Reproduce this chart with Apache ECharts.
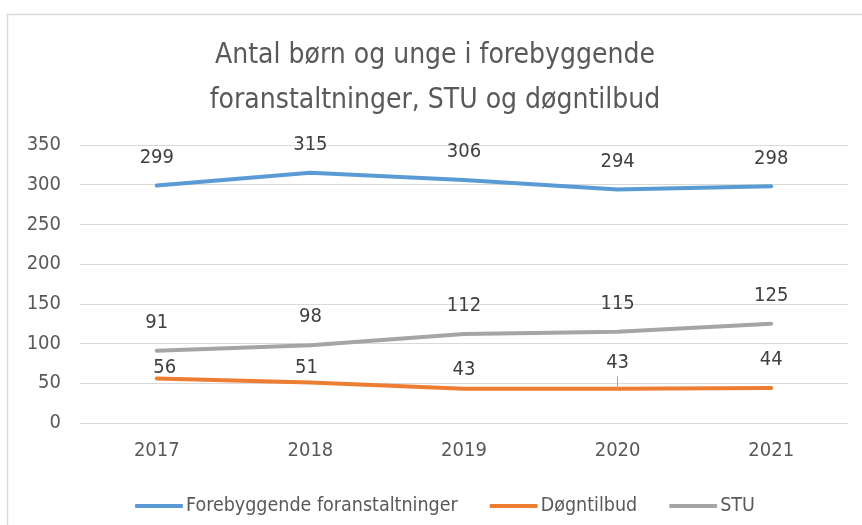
<!DOCTYPE html>
<html>
<head>
<meta charset="utf-8">
<script src="https://cdn.jsdelivr.net/npm/echarts@6/dist/echarts.min.js"></script>
<style>
  html, body { margin: 0; padding: 0; background: #fff; }
  #main { width: 862px; height: 525px; }
</style>
</head>
<body>
<div id="main"></div>
<script>
// data
var years = ['2017', '2018', '2019', '2020', '2021'];
var forebyggende = [299, 315, 306, 294, 298];
var dogntilbud = [56, 51, 43, 43, 44];
var stu = [91, 98, 112, 115, 125];

var fontFam = '"DejaVu Sans Condensed", "Liberation Sans Narrow", sans-serif';

// Døgntilbud labels sit closer to the line (Excel manual placement)
var dogShiftY = [17, 13, 9, 2, 0];
var dogShiftX = [8, -4, 0, 0, 0];

var chart = echarts.init(document.getElementById('main'));

var labelBase = {
    show: true, position: 'top', distance: 18,
    color: '#404040', fontSize: 20, fontFamily: fontFam
};

function lineSeries(name, data, color) {
    return {
        name: name, type: 'line', data: data,
        smooth: false, showSymbol: true, symbol: 'circle', symbolSize: 0,
        lineStyle: {color: color, width: 4, cap: 'round', join: 'round'},
        itemStyle: {color: color},
        label: labelBase
    };
}

var sDog = lineSeries('Døgntilbud', dogntilbud, '#ED7D31');
sDog.labelLayout = function (p) {
    return {dx: dogShiftX[p.dataIndex], dy: dogShiftY[p.dataIndex]};
};
// small leader line from the 2020 label down to its point
sDog.markLine = {
    silent: true, symbol: 'none', label: {show: false},
    lineStyle: {color: '#a6a6a6', width: 1, type: 'solid'},
    data: [[{coord: [years[3], dogntilbud[3]]}, {coord: [years[3], dogntilbud[3] + 16]}]]
};

chart.setOption({
    backgroundColor: '#fff',
    animation: false,
    graphic: [{
        type: 'rect', silent: true,
        shape: {x: 7.5, y: 14.5, width: 900, height: 600},
        style: {fill: 'none', stroke: '#d9d9d9', lineWidth: 1.5}
    }],
    title: {
        text: 'Antal børn og unge i forebyggende\nforanstaltninger, STU og døgntilbud',
        left: 430, top: 28, textAlign: 'center',
        textStyle: {fontFamily: fontFam, fontSize: 28, fontWeight: 'normal', color: '#595959', lineHeight: 45}
    },
    legend: {
        left: 130, top: 491,
        icon: 'roundRect', itemWidth: 48, itemHeight: 4, itemGap: 32,
        textStyle: {fontFamily: fontFam, fontSize: 19.5, color: '#595959', padding: [0, 0, 0, -2]},
        data: ['Forebyggende foranstaltninger', 'Døgntilbud', 'STU']
    },
    grid: {left: 80, right: 14, top: 145, bottom: 102},
    xAxis: {
        type: 'category', data: years, boundaryGap: true,
        axisLine: {lineStyle: {color: '#d9d9d9'}},
        axisTick: {show: false},
        axisLabel: {color: '#595959', fontSize: 20, fontFamily: fontFam, margin: 18}
    },
    yAxis: {
        type: 'value', min: 0, max: 350, interval: 50,
        axisLine: {show: false}, axisTick: {show: false},
        axisLabel: {color: '#595959', fontSize: 20, fontFamily: fontFam, margin: 19},
        splitLine: {lineStyle: {color: '#d9d9d9', width: 1}}
    },
    series: [
        lineSeries('Forebyggende foranstaltninger', forebyggende, '#5B9BD5'),
        sDog,
        lineSeries('STU', stu, '#A5A5A5')
    ]
});
window.onresize = chart.resize;
</script>
</body>
</html>
